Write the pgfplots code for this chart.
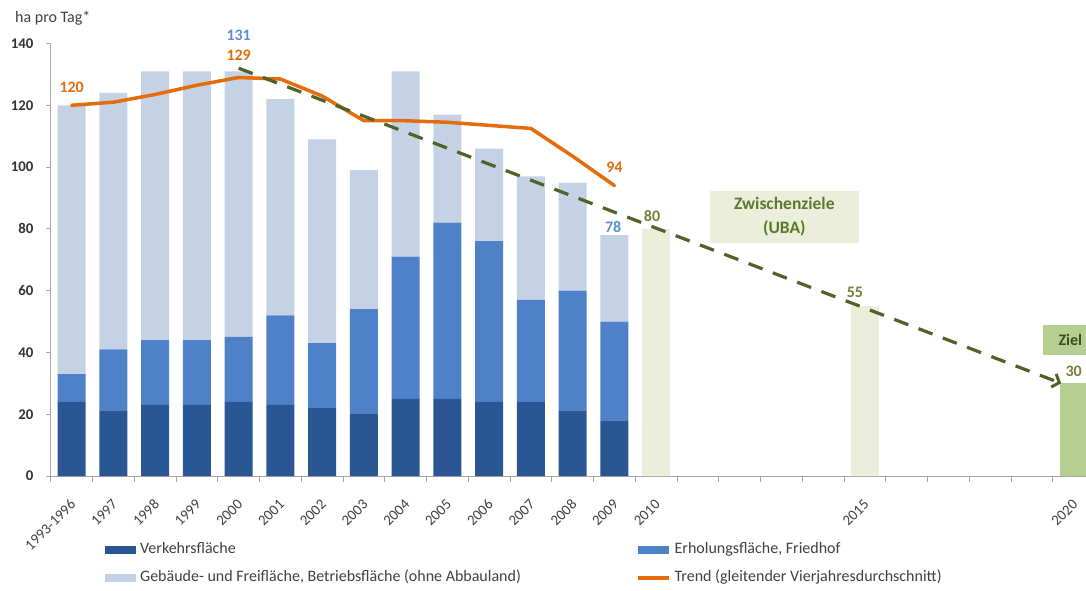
\documentclass[border=0pt]{standalone}
\usepackage{pgfplots}
\pgfplotsset{compat=1.18}
\usepackage{pgfplotstable}
\usepackage{fontspec}
\setmainfont{Carlito}
\usetikzlibrary{arrows.meta}

\definecolor{verkehr}{HTML}{2B5694}
\definecolor{erholung}{HTML}{4F81C8}
\definecolor{gebaeude}{HTML}{C5D2E6}
\definecolor{trend}{HTML}{E46C0A}
\definecolor{zielpfad}{HTML}{4F6228}
\definecolor{zwischen}{HTML}{ECEEDC}
\definecolor{zielfill}{HTML}{B5CF92}
\definecolor{txt}{HTML}{404040}
\definecolor{achse}{HTML}{A6A6A6}
\definecolor{blaulabel}{HTML}{5B8FD0}
\definecolor{olivlabel}{HTML}{76803A}
\definecolor{zwtext}{HTML}{5A7A2A}

\newcommand\cf{\fontsize{16pt}{19pt}\selectfont}
\newcommand\tf{\fontsize{14.8pt}{17pt}\selectfont}
\newcommand\boxfont{\fontsize{17.5pt}{24pt}\selectfont}

% Flaecheninanspruchnahme nach Nutzungsart (ha pro Tag)
\pgfplotstableread{
x verk erh geb
0 24 9 87
1 21 20 83
2 23 21 87
3 23 21 87
4 24 21 86
5 23 29 70
6 22 21 66
7 20 34 45
8 25 46 60
9 25 57 35
10 24 52 30
11 24 33 40
12 21 39 35
13 18 32 28
}\flaeche

% gleitender Vierjahresdurchschnitt
\pgfplotstableread{
x t
0 120
1 121
2 123.5
3 126.5
4 129
5 128.5
6 123
7 115
8 115
9 114.5
10 113.5
11 112.5
12 103.5
13 94
}\trendtab

\pgfplotsset{
  base/.style={
    at={(50.8pt,114pt)}, anchor=south west,
    scale only axis, width=1043.75pt, height=432.5pt,
    xmin=-0.5, xmax=24.5, ymin=0, ymax=140,
  },
  swatch/.style={legend image code/.code={\fill[##1] (0pt,-4pt) rectangle (31pt,4pt);}},
  linesample/.style={legend image code/.code={\draw[##1] (0pt,0pt) -- (31pt,0pt);}},
}

\begin{document}
\begin{tikzpicture}[font=\cf]
\begin{axis}[
  base,
  axis lines*=left,
  axis line style={achse, line width=0.8pt},
  ybar stacked, bar width=28pt,
  xtick={0,...,24},
  xticklabels={1993-1996,1997,1998,1999,2000,2001,2002,2003,2004,2005,2006,2007,2008,2009,2010,,,,,2015,,,,,2020},
  major x tick style={draw=none},
  minor xtick={-0.5,0.5,...,24.5},
  minor tick length=6pt,
  ytick={0,20,...,140},
  major tick length=5pt,
  tick align=outside,
  tick style={achse, line width=0.8pt},
  /pgf/number format/assume math mode=true,
  yticklabel style={font=\tf\bfseries, text=black!80, xshift=-9pt},
  xticklabel style={xshift=1.5pt, yshift=-21pt, rotate=45, anchor=east, inner sep=0pt, font=\tf, text=txt},
  legend columns=2,
  legend cell align=left,
  legend style={at={(axis description cs:0.0519,-0.2035)}, anchor=west,
    draw=none, fill=none, inner sep=0pt, font=\cf, text=txt,
    nodes={inner sep=0pt, text height=11pt, text depth=4pt},
    column sep=4pt, row sep=13pt},
]
\addplot[fill=verkehr, draw=none, swatch] table[x=x, y=verk] {\flaeche};
\addlegendentry{\makebox[492pt][l]{Verkehrsfläche}}
\addplot[fill=erholung, draw=none, swatch] table[x=x, y=erh] {\flaeche};
\addlegendentry{Erholungsfläche, Friedhof}
\addplot[fill=gebaeude, draw=none, swatch] table[x=x, y=geb] {\flaeche};
\addlegendentry{Gebäude- und Freifläche, Betriebsfläche (ohne Abbauland)}
\addlegendimage{trend, line width=3.5pt, linesample}
\addlegendentry{Trend (gleitender Vierjahresdurchschnitt)}
\end{axis}

\begin{axis}[
  base,
  axis lines=none, clip=false,
  ybar, bar width=28pt, bar shift=0pt,
]
% Zwischenziele und Ziel
\addplot[fill=zwischen, draw=none] coordinates {(14,80) (19,55)};
\addplot[fill=zielfill, draw=none] coordinates {(24,30)};
% Trend
\addplot[sharp plot, trend, line width=3.5pt, line join=round, line cap=round] table[x=x, y=t] {\trendtab};
% Zielpfad
\addplot[sharp plot, zielpfad, line width=3.2pt, dash pattern=on 15pt off 11pt,
  -{Straight Barb[length=6pt, width=14pt, line width=3pt]}] coordinates {(4,132) (23.7,30)};

\node[font=\cf\bfseries, text=trend] at (axis cs:0,125.9) {120};
\node[font=\cf\bfseries, text=trend] at (axis cs:4,136.3) {129};
\node[font=\cf\bfseries, text=blaulabel] at (axis cs:4,142.8) {131};
\node[font=\cf\bfseries, text=trend] at (axis cs:13,100.1) {94};
\node[font=\cf\bfseries, text=blaulabel] at (axis cs:12.97,80.5) {78};
\node[font=\cf\bfseries, text=olivlabel] at (axis cs:13.9,84) {80};
\node[font=\cf\bfseries, text=olivlabel] at (axis cs:18.76,59.5) {55};
\node[font=\cf\bfseries, text=olivlabel] at (axis cs:24,34) {30};
\node[fill=zwischen, minimum width=149pt, minimum height=52pt, align=center,
  font=\boxfont\bfseries, text=zwtext, inner sep=0pt] at (axis cs:17.07,83.8) {Zwischenziele\\(UBA)};
\node[fill=zielfill, minimum width=55pt, minimum height=30pt,
  font=\cf\bfseries, text=zielpfad!80!black, inner sep=0pt] at (axis cs:23.92,44) {Ziel};
\end{axis}

\node[anchor=west, text=txt, inner sep=0pt] at (15pt,572pt) {ha pro Tag*};

\pgfresetboundingbox
\path[use as bounding box] (0,0) rectangle (1086pt,590pt);
\end{tikzpicture}
\end{document}
